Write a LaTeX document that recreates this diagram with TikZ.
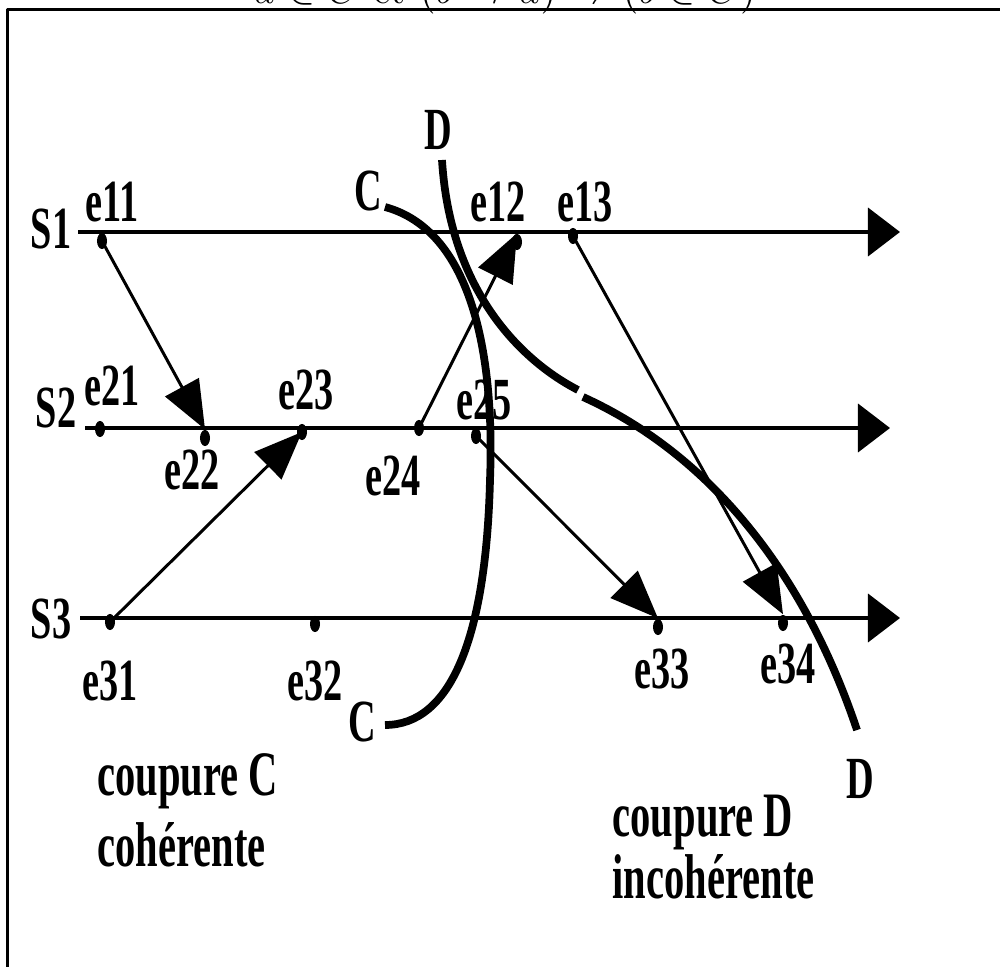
\documentclass[tikz,border=0pt]{standalone}
\usepackage{fontspec}
\newfontfamily\lblfont[FakeStretch=0.64]{Liberation Serif}
\usepackage{tikz}
\usetikzlibrary{arrows.meta,shapes.geometric}
\tikzset{lbl/.style={font=\lblfont\bfseries\fontsize{17}{20}\selectfont,inner sep=0pt,anchor=base},
  evt/.style={ellipse,fill,inner sep=0pt,minimum width=0.1cm,minimum height=0.16cm},
  proc/.style={line width=1.1pt,-{Triangle[length=0.32cm,width=0.48cm]}},
  msg/.style={line width=0.85pt,-{Triangle[length=0.48cm,width=0.38cm]}},
  cut/.style={line width=2.2pt}}

\begin{document}
\begin{tikzpicture}[x=0.01cm,y=-0.01cm,line join=round]
\useasboundingbox (0,0) rectangle (1000,967);
% --- frame and rule, mostly outside the page
\draw[line width=0.85pt] (7.5,1100) |- (1100,9.5);
\node[font=\fontsize{11.6}{13}\selectfont,anchor=base,inner sep=0pt] (rule) at (505,4) {$a\in C$ et $(b\rightarrow a)\Rightarrow(b\in C)$};
% --- processes
\foreach \i/\y/\xa/\xb in {1/232/78/900,2/428/85/890,3/618/80/900} {\coordinate (p\i a) at (\xa,\y); \coordinate (p\i b) at (\xb,\y); \draw[proc] (p\i a) -- (p\i b);}
\foreach \t/\x/\y in {S1/51/249,S2/56/428,S3/51/638} \node[lbl] (\t) at (\x,\y) {\t};
% --- events
\foreach \n/\x/\y in {e11/102/241,e12/517/242,e13/573/236,e21/100/429,e22/205/438,e23/302/432,e24/419/428,e25/476/436,e31/110/622,e32/315/624,e33/658/627,e34/783/623} \node[evt] (\n) at (\x,\y) {};
\foreach \n/\x/\y in {e11/112/222,e12/498/222,e13/585/222,e21/112/406,e22/192/490,e23/306/410,e24/393/495,e25/484/420,e31/110/700,e32/315/700,e33/662/688,e34/788/683} \node[lbl] (l\n) at (\x,\y) {\n};
% --- messages
\draw[msg] (e11.center) -- (e22.north);
\draw[msg] (e24.center) -- (e12.north);
\draw[msg] (e31.center) -- (e23.center);
\draw[msg] (e25.center) -- (e33.north);
\draw[msg] (e13.center) -- (e34.north);
% --- cuts C and D (D drawn in two pieces)
\draw[cut] (385,207) .. controls (470,230) and (495,350) .. (490,480) .. controls (486,640) and (450,725) .. (385,725);
\draw[cut] (442,160) .. controls (450,290) and (520,360) .. (578,390);
\draw[cut] (583,397) .. controls (700,450) and (800,560) .. (857,730);
\node[lbl] (Ca) at (368,211) {C}; \node[lbl] (Cb) at (362,741) {C};
\node[lbl] (Da) at (438,150) {D}; \node[lbl] (Db) at (860,798) {D};
% --- captions
\foreach \t/\x/\y in {coupure C/97/795,cohérente/97/866,coupure D/612/836,incohérente/612/898} \node[lbl,font=\lblfont\bfseries\fontsize{18}{20}\selectfont,anchor=base west] at (\x,\y) {\t};
\end{tikzpicture}
\end{document}
